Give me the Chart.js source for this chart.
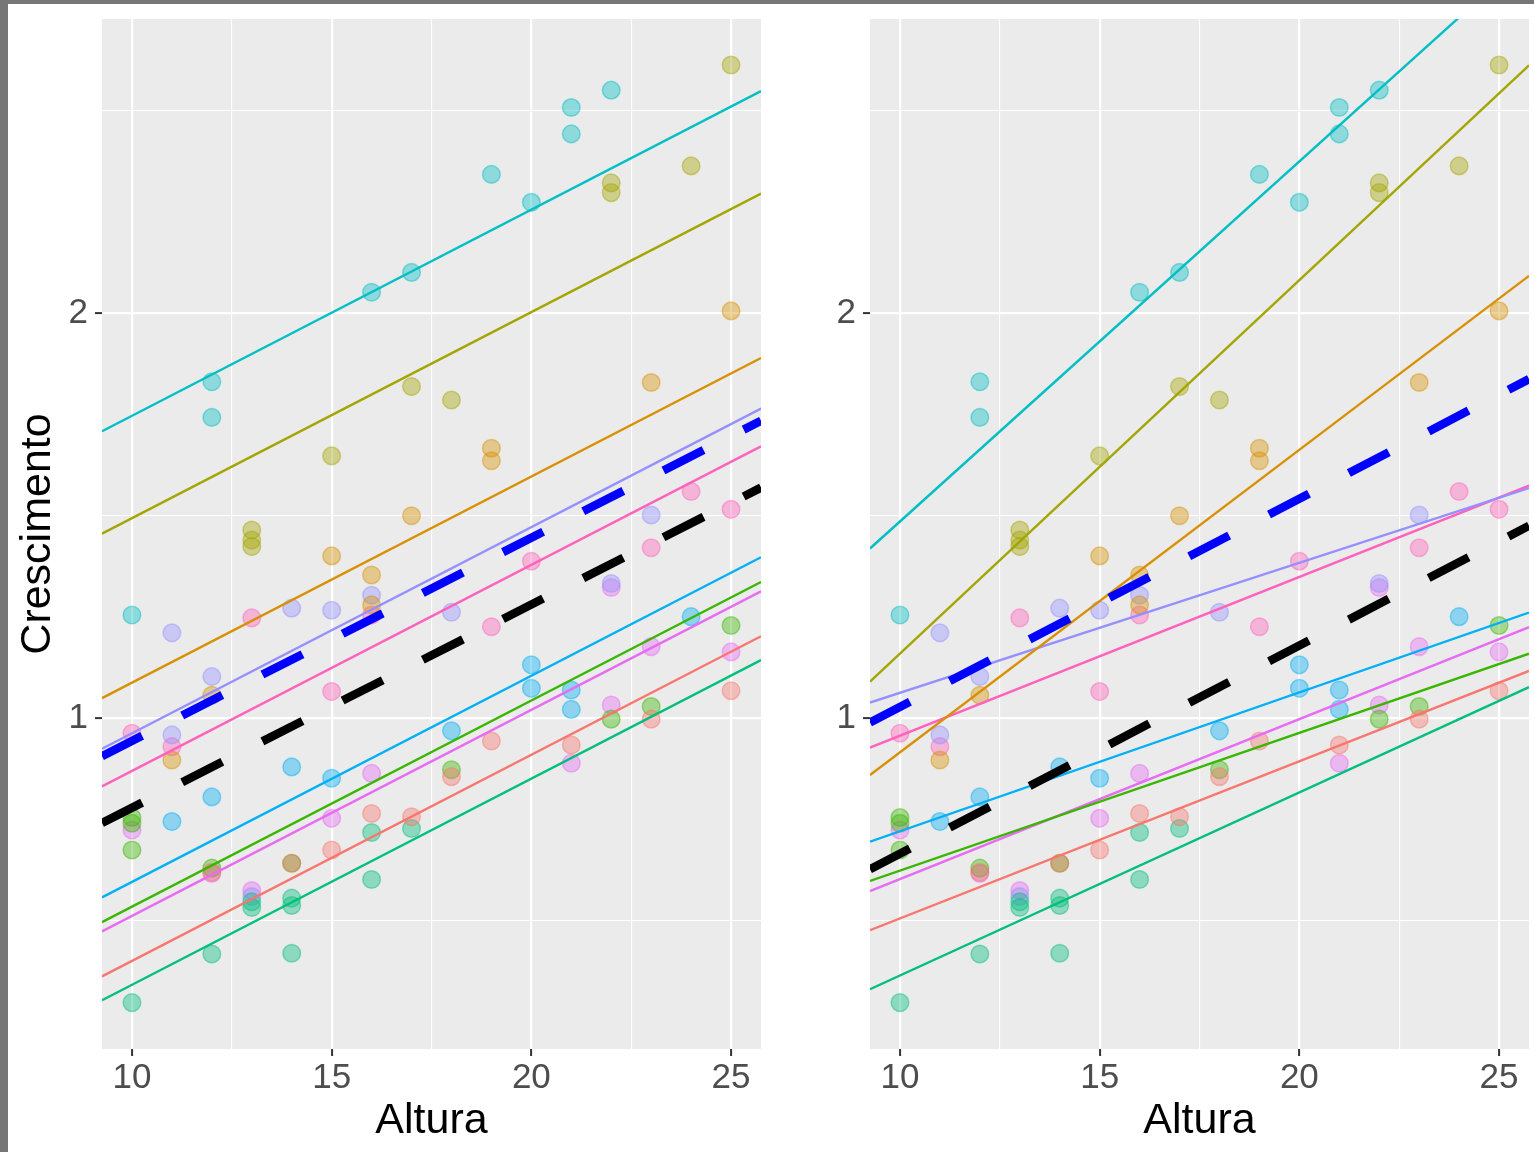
<!DOCTYPE html>
<html><head><meta charset="utf-8">
<script src="https://cdn.jsdelivr.net/npm/chart.js@4"></script>
<style>
html,body{margin:0;padding:0;background:#fff;}
body{width:1534px;height:1152px;position:relative;overflow:hidden;}
#c1{position:absolute;left:0;top:0;}
#c2{position:absolute;left:766px;top:0;}
.bl{position:absolute;left:0;top:0;width:8px;height:1152px;background:#767676;}
.bt{position:absolute;left:0;top:0;width:1534px;height:4px;background:#767676;}
</style></head><body>
<canvas id="c1" width="766" height="1152"></canvas>
<canvas id="c2" width="768" height="1152"></canvas>
<div class="bl"></div><div class="bt"></div>
<script>
// ---------- data ----------
const groupColors = ['#F8766D','#D89000','#A3A500','#39B600','#00BF7D','#00BFC4','#00B0F6','#9590FF','#E76BF3','#FF62BC'];

const g1x = [12, 14, 15, 16, 17, 18, 19, 21, 23, 25];
const g1y = [0.620, 0.642, 0.675, 0.765, 0.757, 0.856, 0.944, 0.934, 0.998, 1.068];
const g2x = [11, 12, 15, 16, 16, 17, 19, 19, 23, 25];
const g2y = [0.897, 1.057, 1.401, 1.354, 1.280, 1.500, 1.667, 1.636, 1.829, 2.006];
const g3x = [13, 13, 13, 15, 17, 18, 22, 22, 24, 25];
const g3y = [1.465, 1.440, 1.424, 1.648, 1.819, 1.786, 2.322, 2.298, 2.364, 2.613];
const g4x = [10, 10, 10, 12, 14, 18, 22, 23, 25];
const g4y = [0.755, 0.741, 0.675, 0.630, 0.642, 0.873, 0.998, 1.029, 1.229];
const g5x = [10, 12, 13, 13, 14, 14, 14, 16, 16, 17];
const g5y = [0.298, 0.418, 0.547, 0.533, 0.556, 0.538, 0.420, 0.718, 0.602, 0.728];
const g6x = [10, 12, 12, 16, 17, 19, 20, 21, 21, 22];
const g6y = [1.255, 1.831, 1.743, 2.052, 2.101, 2.343, 2.274, 2.508, 2.443, 2.551];
const g7x = [11, 12, 14, 15, 18, 20, 20, 21, 21, 24];
const g7y = [0.745, 0.806, 0.880, 0.852, 0.969, 1.132, 1.074, 1.070, 1.022, 1.251];
const g8x = [11, 11, 12, 13, 14, 15, 16, 18, 22, 23];
const g8y = [1.211, 0.959, 1.103, 0.560, 1.272, 1.267, 1.304, 1.262, 1.333, 1.502];
const g9x = [10, 12, 13, 15, 16, 21, 22, 22, 23, 25];
const g9y = [0.724, 0.617, 0.575, 0.753, 0.864, 0.889, 1.033, 1.323, 1.177, 1.164];
const g10x = [10, 11, 13, 15, 16, 19, 20, 23, 24, 25];
const g10y = [0.963, 0.930, 1.248, 1.066, 1.255, 1.226, 1.388, 1.421, 1.560, 1.516];

// fitted lines: value at Altura = 10 and slope per unit of Altura
const leftIntercepts  = [0.401, 1.088, 1.494, 0.535, 0.342, 1.747, 0.596, 0.963, 0.512, 0.870];
const leftSlopes      = [0.0509,0.0509,0.0509,0.0509,0.0509,0.0509,0.0509,0.0509,0.0509,0.0509];
const rightIntercepts = [0.506, 0.916, 1.160, 0.624, 0.365, 1.486, 0.721, 1.063, 0.603, 0.957];
const rightSlopes     = [0.0388,0.0747,0.0922,0.0340,0.0452,0.0889,0.0343,0.0321,0.0395,0.0392];
const leftFixed  = {blue:[0.944, 0.0502], black:[0.779, 0.0502]};
const rightFixed = {blue:[1.028, 0.0514], black:[0.666, 0.0514]};

const xMajor = [10, 15, 20, 25];
const xMajorLabels = ['10', '15', '20', '25'];
const xMinor = [12.5, 17.5, 22.5];
const yMajor = [1, 2];
const yMajorLabels = ['1', '2'];
const yMinor = [0.5, 1.5, 2.5];
const xLim = [9.25, 25.75];
const yLim = [0.1835, 2.7267];

// ---------- helpers ----------
const FONT = "'Liberation Sans', Arial, Helvetica, sans-serif";
const groupsX = [g1x,g2x,g3x,g4x,g5x,g6x,g7x,g8x,g9x,g10x];
const groupsY = [g1y,g2y,g3y,g4y,g5y,g6y,g7y,g8y,g9y,g10y];
function rgba(hex, a){
  const n = parseInt(hex.slice(1),16);
  return `rgba(${(n>>16)&255},${(n>>8)&255},${n&255},${a})`;
}
function lineData(a, b){
  return xLim.map(x => ({x, y: a + b*(x-10)}));
}
function buildDatasets(intercepts, slopes, fixed){
  const ds = [];
  ds.push({data: lineData(fixed.blue[0], fixed.blue[1]), showLine:true, borderColor:'#0000FF', borderWidth:8.5, borderDash:[45,45], borderCapStyle:'butt', pointRadius:0, order:0});
  ds.push({data: lineData(fixed.black[0], fixed.black[1]), showLine:true, borderColor:'#000000', borderWidth:8.5, borderDash:[45,45], borderCapStyle:'butt', pointRadius:0, order:0});
  groupColors.forEach((c,i) => {
    ds.push({data: lineData(intercepts[i], slopes[i]), showLine:true, borderColor:c, borderWidth:2.4, pointRadius:0, order:1});
  });
  groupColors.forEach((c,i) => {
    ds.push({data: groupsX[i].map((x,j)=>({x, y: groupsY[i][j]})), showLine:false,
      backgroundColor: rgba(c,0.4), borderColor: rgba(c,0.45), borderWidth:1.5, pointRadius:8.8, order:2});
  });
  return ds;
}
const panelBg = { id:'panelBg', beforeDraw(chart){
  const {ctx, chartArea:a} = chart;
  ctx.save(); ctx.fillStyle = '#EBEBEB';
  ctx.fillRect(a.left, a.top, a.right-a.left, a.bottom-a.top); ctx.restore();
}};
function xScale(){
  return {
    type:'linear', min:xLim[0], max:xLim[1],
    afterBuildTicks: s => { s.ticks = xMajor.concat(xMinor).sort((a,b)=>a-b).map(v=>({value:v})); },
    afterFit: s => { s.height = 103; s.paddingLeft = 0; s.paddingRight = 0; s.paddingTop = 0; s.paddingBottom = 0; },
    border:{display:false},
    grid:{ color:'#FFFFFF', lineWidth: c => xMajor.includes(c.tick.value) ? 2.2 : 1.1,
      drawTicks:true, tickLength:7, tickWidth:2,
      tickColor: c => xMajor.includes(c.tick.value) ? '#333333' : 'rgba(0,0,0,0)' },
    ticks:{ autoSkip:false, maxRotation:0, padding:1, color:'#4D4D4D', font:{family:FONT, size:35},
      callback: v => { const k = xMajor.indexOf(v); return k >= 0 ? xMajorLabels[k] : ''; } },
    title:{ display:true, text:'Altura', color:'#000000', font:{family:FONT, size:43}, padding:{top:0, bottom:5} }
  };
}
function yScale(width, showTitle){
  return {
    type:'linear', min:yLim[0], max:yLim[1],
    afterBuildTicks: s => { s.ticks = yMinor.concat(yMajor).sort((a,b)=>a-b).map(v=>({value:v})); },
    afterFit: s => { s.width = width; s.paddingLeft = 0; s.paddingRight = 0; s.paddingTop = 0; s.paddingBottom = 0; },
    border:{display:false},
    grid:{ color:'#FFFFFF', lineWidth: c => yMajor.includes(c.tick.value) ? 2.2 : 1.1,
      drawTicks:true, tickLength:7, tickWidth:2,
      tickColor: c => yMajor.includes(c.tick.value) ? '#333333' : 'rgba(0,0,0,0)' },
    ticks:{ autoSkip:false, padding:7, color:'#4D4D4D', font:{family:FONT, size:35},
      callback: v => { const k = yMajor.indexOf(v); return k >= 0 ? yMajorLabels[k] : ''; } },
    title:{ display:showTitle, text:'Crescimento', color:'#000000', font:{family:FONT, size:43}, padding:{top:12, bottom:0} }
  };
}
function makeChart(id, intercepts, slopes, fixed, yWidth, showTitle){
  return new Chart(document.getElementById(id), {
    type:'scatter',
    data:{ datasets: buildDatasets(intercepts, slopes, fixed) },
    options:{
      responsive:false, animation:false, events:[],
      layout:{ autoPadding:false, padding:{top:19, right:5, bottom:0, left:0} },
      plugins:{ legend:{display:false}, tooltip:{enabled:false} },
      scales:{ x: xScale(), y: yScale(yWidth, showTitle) }
    },
    plugins:[panelBg]
  });
}
makeChart('c1', leftIntercepts, leftSlopes, leftFixed, 102, true);
makeChart('c2', rightIntercepts, rightSlopes, rightFixed, 104, false);
</script>
</body></html>
